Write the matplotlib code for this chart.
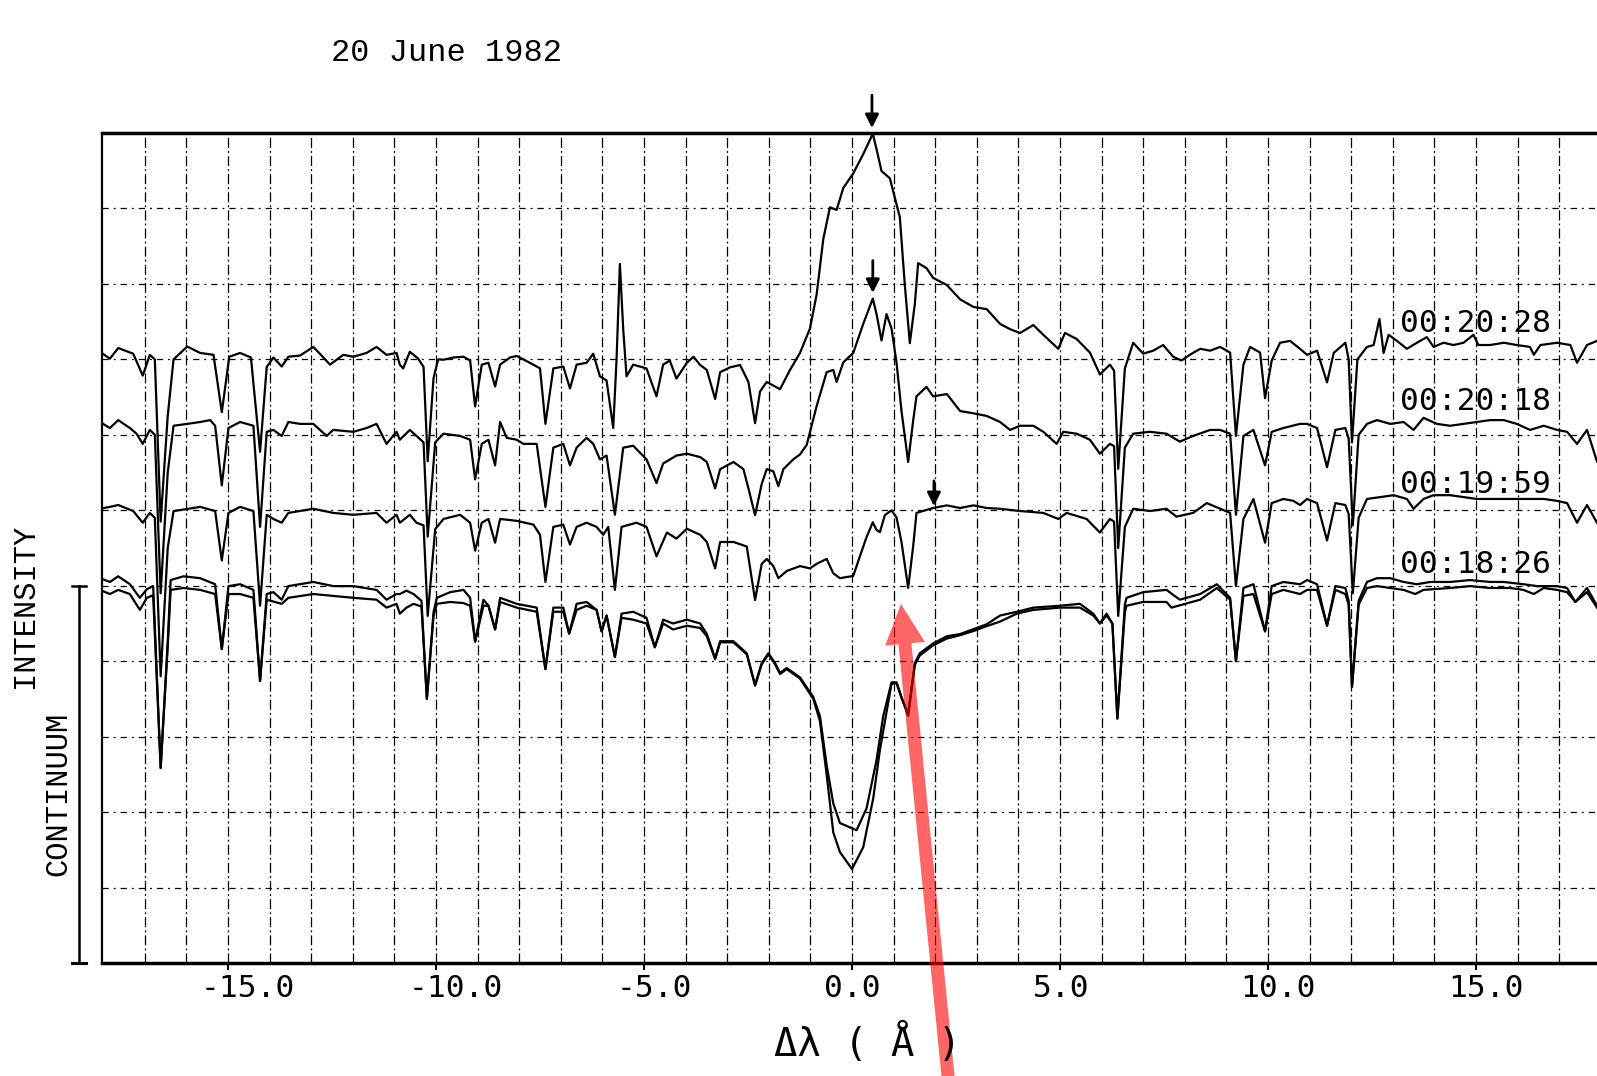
import numpy as np
import matplotlib.pyplot as plt
import matplotlib.transforms as mtransforms
from matplotlib.patches import FancyArrow

plt.rcParams['axes.unicode_minus'] = False

# (delta lambda [A], intensity)
spec_2028 = [
    (-18.08, 1.620), (-17.84, 1.602), (-17.64, 1.630), (-17.28, 1.615), (-17.05, 1.557),
    (-16.88, 1.612), (-16.76, 1.600), (-16.62, 1.170), (-16.45, 1.450), (-16.31, 1.600),
    (-15.98, 1.634), (-15.67, 1.617), (-15.35, 1.612), (-15.15, 1.460), (-14.97, 1.607),
    (-14.71, 1.617), (-14.45, 1.605), (-14.23, 1.355), (-14.07, 1.580), (-13.91, 1.605),
    (-13.71, 1.581), (-13.55, 1.607), (-13.27, 1.610), (-12.95, 1.633), (-12.75, 1.610),
    (-12.55, 1.586), (-12.23, 1.612), (-11.99, 1.607), (-11.67, 1.617), (-11.43, 1.633),
    (-11.19, 1.612), (-10.95, 1.617), (-10.87, 1.586), (-10.79, 1.576), (-10.63, 1.620),
    (-10.43, 1.602), (-10.30, 1.580), (-10.20, 1.330), (-10.06, 1.550), (-9.95, 1.600),
    (-9.82, 1.599), (-9.58, 1.605), (-9.34, 1.607), (-9.18, 1.597), (-9.06, 1.475),
    (-8.90, 1.586), (-8.74, 1.591), (-8.58, 1.528), (-8.46, 1.586), (-8.22, 1.605),
    (-8.06, 1.609), (-7.66, 1.586), (-7.50, 1.576), (-7.37, 1.429), (-7.18, 1.576),
    (-6.94, 1.581), (-6.78, 1.523), (-6.62, 1.586), (-6.38, 1.591), (-6.22, 1.615),
    (-6.06, 1.555), (-5.90, 1.544), (-5.74, 1.418), (-5.66, 1.600), (-5.58, 1.853),
    (-5.50, 1.680), (-5.42, 1.555), (-5.26, 1.586), (-5.10, 1.581), (-4.94, 1.576),
    (-4.70, 1.502), (-4.54, 1.586), (-4.38, 1.597), (-4.22, 1.549), (-3.97, 1.591),
    (-3.81, 1.607), (-3.65, 1.585), (-3.49, 1.572), (-3.29, 1.495), (-3.17, 1.566),
    (-2.93, 1.579), (-2.69, 1.585), (-2.49, 1.540), (-2.33, 1.431), (-2.21, 1.515),
    (-2.05, 1.540), (-1.73, 1.521), (-1.49, 1.572), (-1.25, 1.617), (-1.01, 1.682),
    (-0.85, 1.772), (-0.69, 1.919), (-0.53, 2.003), (-0.37, 1.996), (-0.21, 2.054),
    (0.03, 2.093), (0.27, 2.144), (0.50, 2.198), (0.59, 2.157), (0.71, 2.099),
    (0.91, 2.080), (1.15, 1.977), (1.27, 1.797), (1.39, 1.643), (1.51, 1.746),
    (1.59, 1.855), (1.79, 1.842), (1.95, 1.816), (2.28, 1.797), (2.60, 1.759),
    (2.92, 1.739), (3.24, 1.733), (3.56, 1.694), (3.80, 1.680), (4.04, 1.670),
    (4.36, 1.691), (4.60, 1.665), (4.96, 1.628), (5.12, 1.670), (5.40, 1.654),
    (5.72, 1.618), (5.96, 1.560), (6.20, 1.586), (6.30, 1.570), (6.40, 1.310),
    (6.56, 1.576), (6.76, 1.644), (7.00, 1.615), (7.24, 1.623), (7.48, 1.638),
    (7.72, 1.607), (7.92, 1.597), (8.12, 1.612), (8.37, 1.628), (8.61, 1.623),
    (8.85, 1.633), (9.09, 1.618), (9.23, 1.397), (9.41, 1.586), (9.57, 1.633),
    (9.81, 1.618), (9.93, 1.497), (10.09, 1.597), (10.29, 1.644), (10.53, 1.649),
    (10.77, 1.628), (10.94, 1.612), (11.18, 1.623), (11.42, 1.539), (11.58, 1.617),
    (11.86, 1.644), (11.94, 1.600), (12.02, 1.380), (12.15, 1.600), (12.38, 1.633),
    (12.54, 1.638), (12.68, 1.707), (12.78, 1.617), (12.90, 1.665), (13.10, 1.649),
    (13.34, 1.628), (13.58, 1.644), (13.82, 1.659), (13.98, 1.633), (14.22, 1.644),
    (14.46, 1.638), (14.70, 1.644), (14.94, 1.665), (15.06, 1.638), (15.34, 1.638),
    (15.67, 1.644), (15.98, 1.638), (16.30, 1.633), (16.39, 1.612), (16.55, 1.638),
    (16.95, 1.644), (17.27, 1.638), (17.43, 1.591), (17.67, 1.638), (17.91, 1.649),
]

spec_2018 = [
    (-18.08, 1.434), (-17.84, 1.418), (-17.64, 1.439), (-17.36, 1.418), (-17.20, 1.403),
    (-17.05, 1.376), (-16.88, 1.413), (-16.76, 1.400), (-16.62, 0.980), (-16.45, 1.300),
    (-16.31, 1.424), (-15.98, 1.429), (-15.67, 1.434), (-15.43, 1.439), (-15.31, 1.424),
    (-15.15, 1.266), (-14.99, 1.418), (-14.71, 1.434), (-14.39, 1.424), (-14.23, 1.156),
    (-14.07, 1.408), (-13.91, 1.413), (-13.71, 1.397), (-13.55, 1.434), (-13.27, 1.429),
    (-12.95, 1.429), (-12.63, 1.397), (-12.47, 1.413), (-11.99, 1.408), (-11.67, 1.418),
    (-11.43, 1.429), (-11.19, 1.376), (-10.95, 1.408), (-10.87, 1.387), (-10.63, 1.413),
    (-10.47, 1.397), (-10.30, 1.380), (-10.20, 1.130), (-10.02, 1.380), (-9.82, 1.403),
    (-9.42, 1.397), (-9.18, 1.387), (-9.06, 1.282), (-8.90, 1.376), (-8.74, 1.387),
    (-8.58, 1.319), (-8.46, 1.434), (-8.30, 1.392), (-8.06, 1.387), (-7.90, 1.376),
    (-7.58, 1.376), (-7.37, 1.209), (-7.18, 1.366), (-6.94, 1.376), (-6.78, 1.319),
    (-6.62, 1.366), (-6.38, 1.392), (-6.22, 1.376), (-6.06, 1.335), (-5.90, 1.345),
    (-5.70, 1.188), (-5.50, 1.366), (-5.26, 1.371), (-4.94, 1.335), (-4.70, 1.272),
    (-4.54, 1.324), (-4.22, 1.345), (-3.97, 1.350), (-3.65, 1.341), (-3.49, 1.328),
    (-3.29, 1.258), (-3.17, 1.309), (-2.85, 1.328), (-2.61, 1.309), (-2.49, 1.258),
    (-2.33, 1.187), (-2.17, 1.270), (-2.05, 1.309), (-1.89, 1.303), (-1.77, 1.264),
    (-1.65, 1.309), (-1.41, 1.335), (-1.25, 1.348), (-1.09, 1.373), (-0.85, 1.476),
    (-0.61, 1.566), (-0.45, 1.572), (-0.37, 1.540), (-0.21, 1.592), (0.03, 1.617),
    (0.27, 1.694), (0.50, 1.761), (0.59, 1.720), (0.71, 1.650), (0.83, 1.720),
    (0.95, 1.682), (1.07, 1.592), (1.19, 1.463), (1.35, 1.328), (1.47, 1.437),
    (1.55, 1.502), (1.79, 1.527), (1.95, 1.502), (2.28, 1.508), (2.60, 1.463),
    (2.92, 1.457), (3.24, 1.450), (3.56, 1.434), (3.80, 1.413), (4.04, 1.424),
    (4.36, 1.424), (4.60, 1.408), (4.92, 1.376), (5.08, 1.408), (5.40, 1.403),
    (5.72, 1.387), (5.96, 1.350), (6.20, 1.376), (6.30, 1.370), (6.40, 1.100),
    (6.56, 1.366), (6.76, 1.403), (7.16, 1.408), (7.56, 1.403), (7.88, 1.382),
    (8.20, 1.397), (8.61, 1.413), (8.85, 1.413), (9.09, 1.403), (9.23, 1.188),
    (9.41, 1.397), (9.65, 1.413), (9.93, 1.319), (10.09, 1.408), (10.37, 1.418),
    (10.77, 1.429), (10.94, 1.429), (11.18, 1.418), (11.42, 1.314), (11.62, 1.413),
    (11.86, 1.418), (11.94, 1.390), (12.04, 1.160), (12.18, 1.400), (12.38, 1.429),
    (12.62, 1.439), (12.94, 1.429), (13.26, 1.434), (13.50, 1.413), (13.74, 1.445),
    (14.06, 1.429), (14.38, 1.424), (14.70, 1.429), (15.02, 1.434), (15.34, 1.439),
    (15.67, 1.439), (15.98, 1.429), (16.30, 1.413), (16.63, 1.424), (16.95, 1.413),
    (17.19, 1.408), (17.43, 1.376), (17.67, 1.413), (17.91, 1.329),
]

spec_1959 = [
    (-18.08, 1.204), (-17.84, 1.209), (-17.64, 1.214), (-17.28, 1.198), (-17.05, 1.167),
    (-16.88, 1.193), (-16.76, 1.180), (-16.62, 0.760), (-16.45, 1.100), (-16.31, 1.198),
    (-15.95, 1.204), (-15.67, 1.209), (-15.31, 1.198), (-15.15, 1.067), (-14.99, 1.193),
    (-14.71, 1.209), (-14.39, 1.198), (-14.23, 0.947), (-14.07, 1.188), (-13.91, 1.177),
    (-13.71, 1.167), (-13.55, 1.193), (-12.95, 1.204), (-12.47, 1.193), (-11.99, 1.188),
    (-11.43, 1.193), (-11.19, 1.167), (-10.95, 1.188), (-10.87, 1.167), (-10.63, 1.188),
    (-10.47, 1.167), (-10.30, 1.160), (-10.20, 0.920), (-10.02, 1.150), (-9.82, 1.177),
    (-9.42, 1.188), (-9.18, 1.167), (-9.06, 1.093), (-8.90, 1.167), (-8.74, 1.177),
    (-8.58, 1.114), (-8.46, 1.177), (-8.06, 1.172), (-7.66, 1.162), (-7.50, 1.135),
    (-7.37, 1.010), (-7.18, 1.156), (-6.94, 1.162), (-6.78, 1.109), (-6.62, 1.156),
    (-6.38, 1.167), (-6.14, 1.156), (-5.98, 1.135), (-5.86, 1.156), (-5.70, 0.989),
    (-5.54, 1.156), (-5.18, 1.167), (-4.94, 1.156), (-4.70, 1.078), (-4.45, 1.141),
    (-4.22, 1.125), (-3.97, 1.151), (-3.65, 1.135), (-3.49, 1.116), (-3.29, 1.046),
    (-3.17, 1.116), (-2.85, 1.116), (-2.53, 1.104), (-2.33, 0.962), (-2.17, 1.058),
    (-2.05, 1.071), (-1.89, 1.052), (-1.77, 1.020), (-1.57, 1.039), (-1.25, 1.052),
    (-1.01, 1.046), (-0.85, 1.058), (-0.61, 1.071), (-0.45, 1.033), (-0.29, 1.020),
    (0.03, 1.026), (0.19, 1.078), (0.35, 1.129), (0.50, 1.168), (0.59, 1.148),
    (0.67, 1.142), (0.79, 1.187), (0.95, 1.200), (1.07, 1.181), (1.19, 1.116),
    (1.35, 0.994), (1.47, 1.104), (1.55, 1.193), (1.95, 1.206), (2.28, 1.213),
    (2.60, 1.206), (2.92, 1.213), (3.24, 1.206), (3.56, 1.204), (4.04, 1.198),
    (4.60, 1.193), (4.96, 1.177), (5.16, 1.193), (5.64, 1.177), (5.96, 1.141),
    (6.20, 1.177), (6.30, 1.170), (6.40, 0.920), (6.56, 1.156), (6.76, 1.204),
    (7.16, 1.198), (7.56, 1.204), (7.80, 1.183), (8.20, 1.193), (8.53, 1.219),
    (8.85, 1.204), (9.09, 1.193), (9.23, 0.999), (9.41, 1.177), (9.65, 1.230),
    (9.93, 1.114), (10.09, 1.219), (10.37, 1.230), (10.61, 1.225), (10.77, 1.214),
    (10.94, 1.230), (11.18, 1.219), (11.42, 1.120), (11.62, 1.219), (11.86, 1.214),
    (11.94, 1.190), (12.04, 0.980), (12.18, 1.180), (12.38, 1.230), (12.70, 1.235),
    (13.02, 1.240), (13.34, 1.230), (13.50, 1.204), (13.74, 1.230), (13.98, 1.240),
    (14.38, 1.240), (14.70, 1.235), (15.02, 1.230), (15.34, 1.230), (15.67, 1.230),
    (15.98, 1.230), (16.30, 1.230), (16.63, 1.230), (16.95, 1.225), (17.19, 1.219),
    (17.43, 1.167), (17.67, 1.214), (17.91, 1.167),
]

# 00:18:26 was plotted twice (upper and lower curve)
spec_1826_a = [
    (-18.08, 1.020), (-17.84, 1.010), (-17.64, 1.025), (-17.36, 1.004), (-17.12, 0.968),
    (-16.95, 0.991), (-16.80, 0.999), (-16.62, 0.517), (-16.45, 0.850), (-16.38, 1.015),
    (-16.07, 1.025), (-15.67, 1.020), (-15.31, 1.004), (-15.15, 0.832), (-14.99, 0.999),
    (-14.71, 1.004), (-14.39, 0.989), (-14.23, 0.748), (-14.07, 0.978), (-13.91, 0.983),
    (-13.71, 0.963), (-13.55, 0.999), (-12.95, 1.010), (-12.47, 0.999), (-11.99, 0.999),
    (-11.43, 0.989), (-11.19, 0.963), (-10.95, 0.978), (-10.87, 0.978), (-10.71, 0.987),
    (-10.54, 0.978), (-10.35, 0.960), (-10.22, 0.700), (-10.06, 0.930), (-9.98, 0.968),
    (-9.66, 0.983), (-9.34, 0.989), (-9.18, 0.968), (-9.06, 0.852), (-8.86, 0.963),
    (-8.74, 0.947), (-8.58, 0.884), (-8.46, 0.968), (-8.06, 0.952), (-7.58, 0.942),
    (-7.37, 0.779), (-7.18, 0.942), (-6.94, 0.942), (-6.80, 0.873), (-6.62, 0.952),
    (-6.38, 0.957), (-6.14, 0.936), (-6.02, 0.879), (-5.90, 0.921), (-5.70, 0.811),
    (-5.54, 0.926), (-5.26, 0.931), (-4.94, 0.915), (-4.74, 0.837), (-4.54, 0.910),
    (-4.30, 0.900), (-3.97, 0.910), (-3.65, 0.900), (-3.49, 0.872), (-3.29, 0.808),
    (-3.17, 0.853), (-2.85, 0.853), (-2.53, 0.821), (-2.33, 0.737), (-2.17, 0.795),
    (-2.01, 0.821), (-1.85, 0.795), (-1.73, 0.769), (-1.57, 0.782), (-1.25, 0.757),
    (-0.93, 0.705), (-0.77, 0.654), (-0.61, 0.525), (-0.45, 0.423), (-0.29, 0.371),
    (0.11, 0.352), (0.35, 0.410), (0.59, 0.538), (0.75, 0.654), (0.95, 0.744),
    (1.07, 0.744), (1.19, 0.705), (1.35, 0.660), (1.51, 0.795), (1.63, 0.821),
    (1.95, 0.847), (2.28, 0.866), (2.60, 0.872), (2.92, 0.885), (3.24, 0.898),
    (3.56, 0.921), (3.96, 0.931), (4.36, 0.942), (5.00, 0.947), (5.48, 0.952),
    (5.80, 0.926), (5.96, 0.900), (6.12, 0.926), (6.26, 0.900), (6.38, 0.648),
    (6.56, 0.950), (6.60, 0.968), (7.00, 0.983), (7.56, 0.989), (7.88, 0.963),
    (8.37, 0.978), (8.77, 1.004), (9.09, 0.968), (9.23, 0.800), (9.41, 0.994),
    (9.65, 1.004), (9.93, 0.879), (10.09, 0.999), (10.37, 1.010), (10.77, 1.004),
    (10.94, 1.015), (11.18, 1.004), (11.42, 0.894), (11.62, 0.999), (11.86, 0.994),
    (11.94, 0.960), (12.02, 0.732), (12.18, 0.960), (12.38, 1.010), (12.62, 1.020),
    (12.94, 1.020), (13.26, 1.010), (13.58, 1.004), (13.90, 1.010), (14.38, 1.010),
    (14.86, 1.015), (15.34, 1.010), (15.67, 1.010), (16.14, 1.004), (16.47, 0.999),
    (16.95, 0.999), (17.19, 0.994), (17.39, 0.957), (17.67, 0.994), (17.91, 0.947),
]

spec_1826_b = [
    (-18.08, 0.989), (-17.84, 0.978), (-17.64, 0.989), (-17.36, 0.978), (-17.12, 0.936),
    (-16.95, 0.968), (-16.80, 0.975), (-16.62, 0.517), (-16.45, 0.840), (-16.38, 0.989),
    (-16.07, 0.994), (-15.67, 0.989), (-15.31, 0.978), (-15.15, 0.832), (-14.99, 0.978),
    (-14.71, 0.978), (-14.39, 0.968), (-14.23, 0.748), (-14.07, 0.963), (-13.71, 0.952),
    (-13.55, 0.968), (-12.95, 0.978), (-12.47, 0.973), (-11.99, 0.968), (-11.43, 0.963),
    (-11.19, 0.942), (-10.95, 0.952), (-10.87, 0.926), (-10.71, 0.942), (-10.54, 0.952),
    (-10.35, 0.945), (-10.22, 0.700), (-10.06, 0.920), (-9.98, 0.952), (-9.66, 0.957),
    (-9.34, 0.954), (-9.18, 0.947), (-9.06, 0.852), (-8.86, 0.947), (-8.74, 0.947),
    (-8.58, 0.884), (-8.46, 0.957), (-8.06, 0.942), (-7.58, 0.931), (-7.37, 0.779),
    (-7.18, 0.931), (-6.94, 0.931), (-6.80, 0.873), (-6.62, 0.936), (-6.38, 0.947),
    (-6.14, 0.936), (-6.02, 0.879), (-5.90, 0.921), (-5.70, 0.811), (-5.54, 0.915),
    (-5.26, 0.910), (-4.94, 0.900), (-4.74, 0.837), (-4.54, 0.900), (-4.30, 0.884),
    (-3.97, 0.894), (-3.65, 0.888), (-3.49, 0.866), (-3.29, 0.805), (-3.17, 0.850),
    (-2.85, 0.850), (-2.53, 0.818), (-2.33, 0.735), (-2.17, 0.792), (-2.01, 0.818),
    (-1.85, 0.792), (-1.73, 0.766), (-1.57, 0.779), (-1.25, 0.754), (-0.93, 0.700),
    (-0.77, 0.641), (-0.61, 0.500), (-0.45, 0.346), (-0.29, 0.294), (0.00, 0.249),
    (0.27, 0.307), (0.51, 0.436), (0.67, 0.564), (0.95, 0.740), (1.07, 0.742),
    (1.19, 0.703), (1.35, 0.655), (1.51, 0.790), (1.63, 0.815), (1.95, 0.842),
    (2.28, 0.860), (2.60, 0.869), (2.92, 0.880), (3.24, 0.893), (3.56, 0.905),
    (3.96, 0.926), (4.36, 0.936), (5.00, 0.942), (5.48, 0.942), (5.80, 0.921),
    (5.96, 0.900), (6.12, 0.921), (6.26, 0.900), (6.38, 0.648), (6.56, 0.930),
    (6.60, 0.947), (7.00, 0.957), (7.56, 0.957), (7.68, 0.942), (8.37, 0.963),
    (8.77, 0.994), (9.09, 0.963), (9.23, 0.800), (9.41, 0.973), (9.65, 0.978),
    (9.93, 0.879), (10.09, 0.978), (10.37, 0.989), (10.77, 0.978), (10.94, 0.989),
    (11.18, 0.989), (11.42, 0.894), (11.62, 0.989), (11.86, 0.978), (11.94, 0.950),
    (12.02, 0.732), (12.18, 0.950), (12.38, 0.994), (12.62, 0.999), (12.94, 0.994),
    (13.26, 0.989), (13.54, 0.978), (13.74, 0.989), (14.38, 0.994), (14.86, 0.999),
    (15.34, 0.994), (15.83, 0.994), (16.14, 0.989), (16.39, 0.978), (16.63, 0.994),
    (16.95, 0.989), (17.19, 0.983), (17.39, 0.957), (17.67, 0.983), (17.91, 0.942),
]

time_labels = ["00:20:28", "00:20:18", "00:19:59", "00:18:26"]
time_label_y = [1.696, 1.487, 1.268, 1.055]
time_label_x = 13.17

x_ticks = [-15, -10, -5, 0, 5, 10, 15]
x_lim = (-18.03, 17.91)
y_lim = (0.0, 2.2)

# arrows marking the peaks: (x, tip, tail)
peak_marks = [(0.48, 2.213, 2.30), (0.50, 1.776, 1.862), (1.97, 1.211, 1.278)]


def main():
    fig = plt.figure(figsize=(15.97, 10.76), dpi=100)
    ax = fig.add_axes([102 / 1597, 0.105, 1 - 102 / 1597, 0.7714])
    ax.set_xlim(*x_lim)
    ax.set_ylim(*y_lim)

    # plotter grid
    for gx in range(-17, 18):
        ax.axvline(gx, color="k", lw=0.9, ls=(0, (8, 2.5, 1.5, 2.5)), zorder=1)
    for gy in np.arange(0.2, 2.1, 0.2):
        ax.axhline(gy, color="k", lw=0.9, ls=(0, (5, 4, 1.5, 4)), zorder=1)

    for spec in [spec_2028, spec_2018, spec_1959, spec_1826_a, spec_1826_b]:
        arr = np.array(spec)
        ax.plot(arr[:, 0], arr[:, 1], color="k", lw=1.6, zorder=3)

    for lab, ly in zip(time_labels, time_label_y):
        ax.text(time_label_x, ly, lab, family="DejaVu Sans Mono", fontsize=22.5,
                ha="left", va="center", zorder=4)

    for mx, tip, tail in peak_marks:
        ax.annotate("", xy=(mx, tip), xytext=(mx, tail),
                    arrowprops=dict(arrowstyle="-|>", color="k", lw=2,
                                    mutation_scale=20, shrinkA=0, shrinkB=0),
                    annotation_clip=False, zorder=5)

    ax.spines["right"].set_visible(False)
    ax.spines["top"].set_linewidth(2.5)
    ax.spines["bottom"].set_linewidth(2.5)
    ax.spines["left"].set_linewidth(1.6)
    ax.set_yticks([])
    ax.set_xticks(x_ticks)
    ax.set_xticklabels([f"{t:.1f}" for t in x_ticks], family="DejaVu Sans Mono",
                       fontsize=22.5, ha="left")
    ax.tick_params(axis="x", direction="out", length=5, width=1.5, pad=3)
    # the plotter starts each label a little left of its tick
    shift = mtransforms.ScaledTranslation(-0.275, 0, fig.dpi_scale_trans)
    for lbl in ax.get_xticklabels():
        lbl.set_transform(lbl.get_transform() + shift)

    # titles and labels
    fig.text(331 / 1597, 1 - 53 / 1076, "20 June 1982", family="Liberation Mono",
             fontsize=23, ha="left", va="center")
    fig.text(0.5435, 1 - 1043 / 1076, "Δλ ( Å )", family="DejaVu Sans Mono",
             fontsize=28, ha="center", va="center")
    fig.text(25.5 / 1597, 1 - 606 / 1076, "INTENSITY", family="Liberation Mono",
             fontsize=22, rotation=90, ha="center", va="center")
    fig.text(58 / 1597, 1 - 794 / 1076, "CONTINUUM", family="Liberation Mono",
             fontsize=22, rotation=90, ha="center", va="center")

    # continuum bracket, from zero to the continuum level
    trans = mtransforms.blended_transform_factory(fig.transFigure, ax.transData)
    bx = 79 / 1597
    cap = 7 / 1597
    ax.plot([bx, bx], [0, 1.0], color="k", lw=1.8, transform=trans, clip_on=False)
    ax.plot([bx - cap, bx + cap], [1.0, 1.0], color="k", lw=1.8, transform=trans,
            clip_on=False)
    ax.plot([bx - cap, bx + cap], [0, 0], color="k", lw=2.2, transform=trans,
            clip_on=False)

    # red pointer added on top of the scan
    fig.add_artist(FancyArrow(9.485, -0.05, -0.475, 4.77, width=0.13,
                              head_width=0.40, head_length=0.40,
                              length_includes_head=True, color="red", alpha=0.6,
                              lw=0, transform=fig.dpi_scale_trans))

    fig.savefig("out.png", dpi=100)
    plt.close(fig)


if __name__ == "__main__":
    main()
